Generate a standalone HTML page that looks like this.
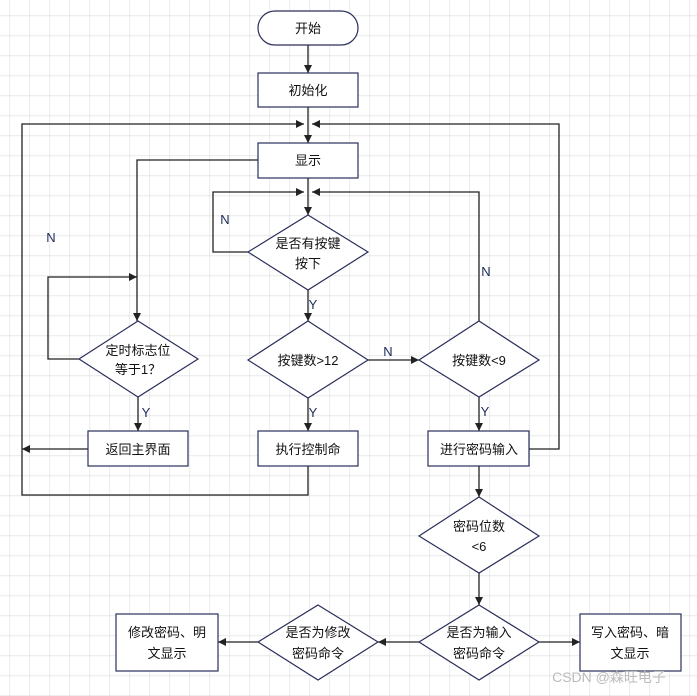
<!DOCTYPE html>
<html><head><meta charset="utf-8"><style>
html,body{margin:0;padding:0;background:#fff}
svg{display:block}
text{font-family:"Liberation Sans","Noto Sans CJK SC",sans-serif;font-size:13px;fill:#111;text-anchor:middle}
.l{font-size:13px;fill:#1a2a5a}
</style></head><body>
<svg width="697" height="696" viewBox="0 0 697 696" xmlns="http://www.w3.org/2000/svg">
<defs>
<pattern id="g" x="9.5" y="15.5" width="20" height="20" patternUnits="userSpaceOnUse">
<path d="M0 0H20M0 0V20" stroke="#dcdcdc" stroke-width="1.2" fill="none"/>
</pattern>
<marker id="a" viewBox="0 0 10 10" refX="10" refY="5" markerWidth="8" markerHeight="8" orient="auto-start-reverse" markerUnits="userSpaceOnUse">
<path d="M0 0L10 5L0 10z" fill="#222"/>
</marker>
</defs>
<rect width="697" height="696" fill="url(#g)"/>
<g stroke="#222" stroke-width="1.3" fill="none">
<line x1="308" y1="45" x2="308" y2="73" marker-end="url(#a)"/>
<line x1="308" y1="107" x2="308" y2="143" marker-end="url(#a)"/>
<polyline points="22,449 22,124 304,124" marker-end="url(#a)"/>
<polyline points="529,449 559,449 559,124 312,124" marker-end="url(#a)"/>
<polyline points="258,160 137,160 137,321" marker-end="url(#a)"/>
<line x1="308" y1="178" x2="308" y2="215" marker-end="url(#a)"/>
<polyline points="248,252 213,252 213,192 304,192" marker-end="url(#a)"/>
<polyline points="479,321 479,192 312,192" marker-end="url(#a)"/>
<line x1="308" y1="290" x2="308" y2="321" marker-end="url(#a)"/>
<line x1="368" y1="360" x2="419" y2="360" marker-end="url(#a)"/>
<line x1="308" y1="398" x2="308" y2="431" marker-end="url(#a)"/>
<line x1="479" y1="397" x2="479" y2="431" marker-end="url(#a)"/>
<polyline points="79,359 48,359 48,277 137,277" marker-end="url(#a)"/>
<line x1="138" y1="397" x2="138" y2="431" marker-end="url(#a)"/>
<line x1="88" y1="449" x2="22" y2="449" marker-end="url(#a)"/>
<polyline points="308,466 308,495 22,495 22,449"/>
<line x1="479" y1="466" x2="479" y2="497" marker-end="url(#a)"/>
<line x1="479" y1="573" x2="479" y2="605" marker-end="url(#a)"/>
<line x1="419" y1="642" x2="378" y2="642" marker-end="url(#a)"/>
<line x1="258" y1="642" x2="218" y2="642" marker-end="url(#a)"/>
<line x1="539" y1="642" x2="580" y2="642" marker-end="url(#a)"/>
</g>
<g stroke="#2a2f5a" stroke-width="1.2" fill="#fff">
<rect x="258" y="11" width="100" height="34" rx="17"/>
<rect x="258" y="73" width="100" height="34"/>
<rect x="258" y="143" width="100" height="35"/>
<polygon points="308,215 368,252 308,290 248,252"/>
<polygon points="308,321 368,360 308,398 248,360"/>
<polygon points="479,321 539,360 479,397 419,360"/>
<polygon points="138,321 198,359 138,397 79,359"/>
<rect x="258" y="431" width="100" height="35"/>
<rect x="428" y="431" width="101" height="35"/>
<rect x="88" y="431" width="100" height="35"/>
<polygon points="479,497 539,536 479,573 419,536"/>
<polygon points="479,605 539,642 479,680 419,642"/>
<polygon points="318,605 378,642 318,680 258,642"/>
<rect x="116" y="614" width="102" height="57"/>
<rect x="580" y="614" width="101" height="57"/>
</g>
<text x="308" y="33">开始</text>
<text x="308" y="95">初始化</text>
<text x="308" y="165">显示</text>
<text x="308" y="248">是否有按键</text>
<text x="308" y="268">按下</text>
<text x="308" y="365">按键数&gt;12</text>
<text x="479" y="365">按键数&lt;9</text>
<text x="138" y="355">定时标志位</text>
<text x="138" y="374">等于1？</text>
<text x="308" y="454">执行控制命</text>
<text x="479" y="454">进行密码输入</text>
<text x="138" y="454">返回主界面</text>
<text x="479" y="531">密码位数</text>
<text x="479" y="551">&lt;6</text>
<text x="479" y="637">是否为输入</text>
<text x="479" y="658">密码命令</text>
<text x="318" y="637">是否为修改</text>
<text x="318" y="658">密码命令</text>
<text x="167" y="637">修改密码、明</text>
<text x="167" y="658">文显示</text>
<text x="630" y="637">写入密码、暗</text>
<text x="630" y="658">文显示</text>
<text class="l" x="51" y="242">N</text>
<text class="l" x="225" y="224">N</text>
<text class="l" x="313" y="309">Y</text>
<text class="l" x="313" y="417">Y</text>
<text class="l" x="146" y="417">Y</text>
<text class="l" x="388" y="356">N</text>
<text class="l" x="486" y="276">N</text>
<text class="l" x="485" y="416">Y</text>
<text x="609" y="682" style="fill:#bbb;font-size:14px">CSDN @森旺电子</text>
</svg>
</body></html>
